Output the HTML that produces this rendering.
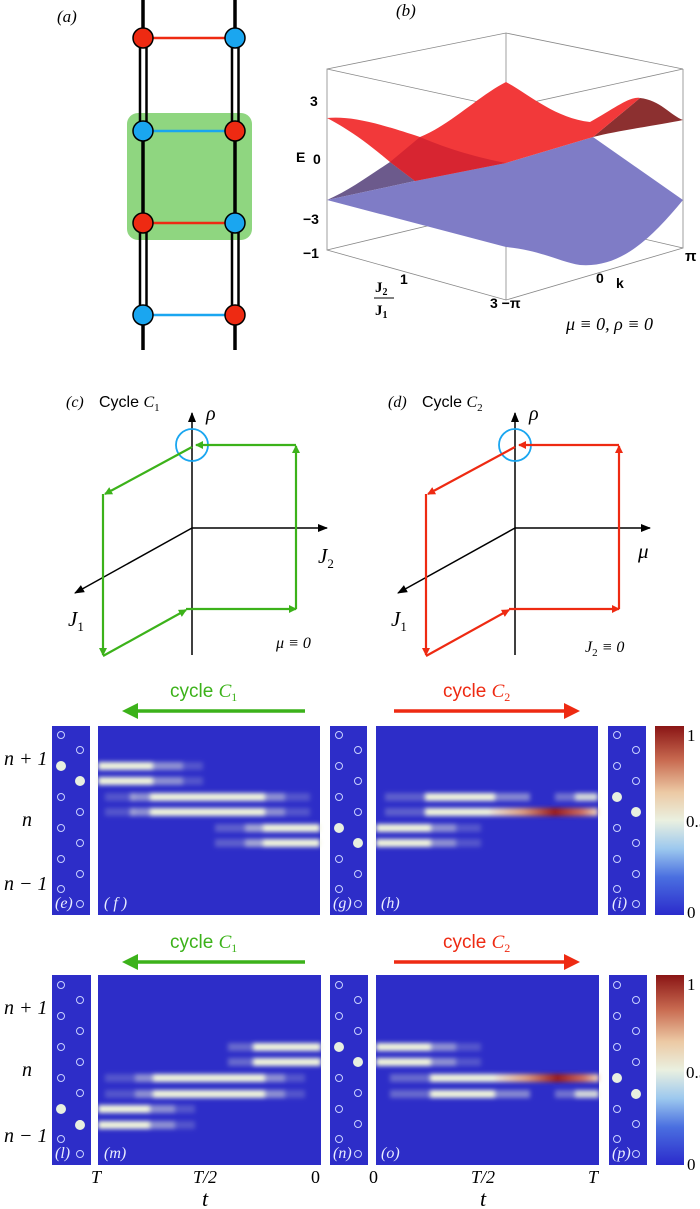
<!DOCTYPE html>
<html><head><meta charset="utf-8"><style>
html,body{margin:0;padding:0;background:#fff;}
svg{display:block;}
.it{font-family:"Liberation Serif",serif;font-style:italic;}
.sf{font-family:"Liberation Sans",sans-serif;}
.rm{font-family:"Liberation Serif",serif;}
</style></head><body>
<svg width="700" height="1209" viewBox="0 0 700 1209" xmlns="http://www.w3.org/2000/svg">
<defs>
<filter id="bl" x="-20%" y="-200%" width="140%" height="500%"><feGaussianBlur stdDeviation="2.5 2"/></filter>
<linearGradient id="cb" x1="0" y1="1" x2="0" y2="0">
<stop offset="0" stop-color="#2b2bcc"/><stop offset="0.2" stop-color="#4a6fe0"/><stop offset="0.35" stop-color="#9cc8ee"/>
<stop offset="0.5" stop-color="#eaf0e0"/><stop offset="0.65" stop-color="#ecc9a4"/><stop offset="0.82" stop-color="#c86a50"/><stop offset="1" stop-color="#8a1515"/>
</linearGradient>
<linearGradient id="redc" x1="0" x2="1"><stop offset="0" stop-color="#eee8d8"/><stop offset="0.3" stop-color="#e0a080"/><stop offset="0.6" stop-color="#9a1818"/><stop offset="0.85" stop-color="#d07060"/><stop offset="1" stop-color="#f0d8c0"/></linearGradient>
<marker id="ag" markerWidth="8" markerHeight="8" refX="7" refY="4" orient="auto" markerUnits="userSpaceOnUse" viewBox="0 0 8 8"><path d="M0,0 L8,4 L0,8z" fill="#3cb21a"/></marker>
<marker id="ar" markerWidth="8" markerHeight="8" refX="7" refY="4" orient="auto" markerUnits="userSpaceOnUse" viewBox="0 0 8 8"><path d="M0,0 L8,4 L0,8z" fill="#ee2a12"/></marker>
<marker id="ak" markerWidth="10" markerHeight="10" refX="9" refY="5" orient="auto" markerUnits="userSpaceOnUse" viewBox="0 0 10 10"><path d="M0,1 L10,5 L0,9z" fill="#000"/></marker>
</defs>

<!-- (a) -->
<text x="57" y="22" class="it" font-size="17">(a)</text>
<rect x="127" y="113" width="125" height="127" rx="11" fill="#8fd680"/>
<g stroke="#000" fill="none">
<line x1="143" y1="0" x2="143" y2="38" stroke-width="3.5"/>
<line x1="140" y1="38" x2="140" y2="131" stroke-width="2.5"/><line x1="146.5" y1="38" x2="146.5" y2="131" stroke-width="2.5"/>
<line x1="143" y1="131" x2="143" y2="223" stroke-width="3.5"/>
<line x1="140" y1="223" x2="140" y2="315" stroke-width="2.5"/><line x1="146.5" y1="223" x2="146.5" y2="315" stroke-width="2.5"/>
<line x1="143" y1="315" x2="143" y2="350" stroke-width="3.5"/>
<line x1="235" y1="0" x2="235" y2="38" stroke-width="3.5"/>
<line x1="232" y1="38" x2="232" y2="131" stroke-width="2.5"/><line x1="238.5" y1="38" x2="238.5" y2="131" stroke-width="2.5"/>
<line x1="235" y1="131" x2="235" y2="223" stroke-width="3.5"/>
<line x1="232" y1="223" x2="232" y2="315" stroke-width="2.5"/><line x1="238.5" y1="223" x2="238.5" y2="315" stroke-width="2.5"/>
<line x1="235" y1="315" x2="235" y2="350" stroke-width="3.5"/>
</g>
<line x1="143" y1="38" x2="235" y2="38" stroke="#ee2a12" stroke-width="2.5"/>
<line x1="143" y1="131" x2="235" y2="131" stroke="#1aa6f0" stroke-width="2.5"/>
<line x1="143" y1="223" x2="235" y2="223" stroke="#ee2a12" stroke-width="2.5"/>
<line x1="143" y1="315" x2="235" y2="315" stroke="#1aa6f0" stroke-width="2.5"/>
<g stroke="#000" stroke-width="1.5">
<circle cx="143" cy="38" r="10" fill="#ee2a12"/><circle cx="235" cy="38" r="10" fill="#1aa6f0"/>
<circle cx="143" cy="131" r="10" fill="#1aa6f0"/><circle cx="235" cy="131" r="10" fill="#ee2a12"/>
<circle cx="143" cy="223" r="10" fill="#ee2a12"/><circle cx="235" cy="223" r="10" fill="#1aa6f0"/>
<circle cx="143" cy="315" r="10" fill="#1aa6f0"/><circle cx="235" cy="315" r="10" fill="#ee2a12"/>
</g>

<!-- (b) -->
<text x="396" y="16" class="it" font-size="17">(b)</text>
<g stroke="#888" stroke-width="0.8" fill="none">
<polyline points="327,69 506,33 683,69 506,108 327,69 327,250 506,207 683,248 683,69"/>
<line x1="506" y1="33" x2="506" y2="207"/>
<polyline points="327,250 506,300 683,248"/>
<line x1="506" y1="108" x2="506" y2="300"/>
</g>
<path d="M327,200 L415,181 L390,162 C370,175 350,190 327,200z" fill="#6c5a8c"/>
<path d="M415,181 L506,163 L593,137 L683,200 C650,240 620,268 580,265 C560,262 540,250 506,247 L327,200z" fill="#7f7cc6"/>
<path d="M593,137 L640,98 C660,100 670,115 683,120 L683,120 C660,125 620,130 593,137z" fill="#8c3030"/>
<path d="M327,118 C350,116 375,122 420,137 C450,125 480,95 506,82 C530,95 555,118 590,122 C615,108 630,96 640,98 L593,137 L506,163 L415,181 L390,162 C370,145 350,130 327,118z" fill="#f2393a"/>
<path d="M420,137 C450,150 480,158 506,163 L415,181 L390,162z" fill="#d02030" opacity="0.8"/>
<text x="310" y="106" class="sf" font-size="14" font-weight="bold">3</text>
<text x="296" y="162" class="sf" font-size="14" font-weight="bold">E</text>
<text x="313" y="164" class="sf" font-size="14" font-weight="bold">0</text>
<text x="303" y="224" class="sf" font-size="14" font-weight="bold">−3</text>
<text x="303" y="258" class="sf" font-size="14" font-weight="bold">−1</text>
<text x="400" y="284" class="sf" font-size="14" font-weight="bold">1</text>
<text x="375" y="292" class="rm" font-size="15" font-weight="bold">J<tspan font-size="10" dy="3">2</tspan></text>
<line x1="374" y1="298" x2="394" y2="298" stroke="#000" stroke-width="1"/>
<text x="375" y="315" class="rm" font-size="15" font-weight="bold">J<tspan font-size="10" dy="3">1</tspan></text>
<text x="490" y="308" class="sf" font-size="14" font-weight="bold">3 −π</text>
<text x="596" y="283" class="sf" font-size="14" font-weight="bold">0</text>
<text x="616" y="288" class="sf" font-size="14" font-weight="bold">k</text>
<text x="685" y="261" class="sf" font-size="15" font-weight="bold">π</text>
<text x="566" y="330" class="it" font-size="18">μ ≡ 0,  ρ ≡ 0</text>

<!-- (c) -->
<text x="66" y="407" class="it" font-size="16">(c)</text><text x="99" y="407" class="sf" font-size="16">Cycle <tspan class="it">C</tspan><tspan class="rm" font-size="11" dy="4">1</tspan></text>
<text x="206" y="420" class="it" font-size="20">ρ</text>
<line x1="192" y1="655" x2="192" y2="413" stroke="#000" stroke-width="1.5" marker-end="url(#ak)"/>
<line x1="192" y1="528" x2="327" y2="528" stroke="#000" stroke-width="1.5" marker-end="url(#ak)"/>
<line x1="192" y1="528" x2="75" y2="593" stroke="#000" stroke-width="1.5" marker-end="url(#ak)"/>
<text x="318" y="563" class="it" font-size="21">J<tspan font-size="13" dy="5" font-style="normal">2</tspan></text>
<text x="68" y="626" class="it" font-size="21">J<tspan font-size="13" dy="5" font-style="normal">1</tspan></text>
<text x="276" y="648" class="it" font-size="16">μ ≡ 0</text>
<circle cx="192" cy="445" r="16" fill="none" stroke="#1aa6f0" stroke-width="1.8"/>
<g stroke="#3cb21a" stroke-width="2.2" fill="none">
<line x1="296" y1="445" x2="196" y2="445" marker-end="url(#ag)"/>
<line x1="192" y1="447" x2="105" y2="494" marker-end="url(#ag)"/>
<line x1="103" y1="494" x2="103" y2="655" marker-end="url(#ag)"/>
<line x1="103" y1="656" x2="186" y2="610" marker-end="url(#ag)"/>
<line x1="186" y1="609" x2="296" y2="609" marker-end="url(#ag)"/>
<line x1="296" y1="609" x2="296" y2="446" marker-end="url(#ag)"/>
</g>

<!-- (d) -->
<text x="388" y="407" class="it" font-size="16">(d)</text><text x="422" y="407" class="sf" font-size="16">Cycle <tspan class="it">C</tspan><tspan class="rm" font-size="11" dy="4">2</tspan></text>
<text x="529" y="420" class="it" font-size="20">ρ</text>
<line x1="515" y1="655" x2="515" y2="413" stroke="#000" stroke-width="1.5" marker-end="url(#ak)"/>
<line x1="515" y1="528" x2="650" y2="528" stroke="#000" stroke-width="1.5" marker-end="url(#ak)"/>
<line x1="515" y1="528" x2="398" y2="593" stroke="#000" stroke-width="1.5" marker-end="url(#ak)"/>
<text x="638" y="558" class="it" font-size="21">μ</text>
<text x="391" y="626" class="it" font-size="21">J<tspan font-size="13" dy="5" font-style="normal">1</tspan></text>
<text x="585" y="652" class="it" font-size="16">J<tspan font-size="11" dy="4" font-style="normal">2</tspan><tspan dy="-4"> ≡ 0</tspan></text>
<circle cx="515" cy="445" r="16" fill="none" stroke="#1aa6f0" stroke-width="1.8"/>
<g stroke="#ee2a12" stroke-width="2.2" fill="none">
<line x1="619" y1="445" x2="519" y2="445" marker-end="url(#ar)"/>
<line x1="515" y1="447" x2="428" y2="494" marker-end="url(#ar)"/>
<line x1="426" y1="494" x2="426" y2="655" marker-end="url(#ar)"/>
<line x1="426" y1="656" x2="509" y2="610" marker-end="url(#ar)"/>
<line x1="509" y1="609" x2="619" y2="609" marker-end="url(#ar)"/>
<line x1="619" y1="609" x2="619" y2="446" marker-end="url(#ar)"/>
</g>

<!-- cycle arrows -->
<g>
<text x="170" y="697" class="sf" font-size="19" fill="#3cb21a">cycle <tspan class="it">C</tspan><tspan class="rm" font-size="12" dy="4">1</tspan></text>
<line x1="305" y1="711" x2="135" y2="711" stroke="#3cb21a" stroke-width="3.5"/><path d="M122,711 L138,703 L138,719z" fill="#3cb21a"/>
<text x="443" y="697" class="sf" font-size="19" fill="#ee2a12">cycle <tspan class="it">C</tspan><tspan class="rm" font-size="12" dy="4">2</tspan></text>
<line x1="394" y1="711" x2="566" y2="711" stroke="#ee2a12" stroke-width="3.5"/><path d="M580,711 L564,703 L564,719z" fill="#ee2a12"/>
<text x="170" y="948" class="sf" font-size="19" fill="#3cb21a">cycle <tspan class="it">C</tspan><tspan class="rm" font-size="12" dy="4">1</tspan></text>
<line x1="305" y1="962" x2="135" y2="962" stroke="#3cb21a" stroke-width="3.5"/><path d="M122,962 L138,954 L138,970z" fill="#3cb21a"/>
<text x="443" y="948" class="sf" font-size="19" fill="#ee2a12">cycle <tspan class="it">C</tspan><tspan class="rm" font-size="12" dy="4">2</tspan></text>
<line x1="394" y1="962" x2="566" y2="962" stroke="#ee2a12" stroke-width="3.5"/><path d="M580,962 L564,954 L564,970z" fill="#ee2a12"/>
</g>

<!-- row labels -->
<g class="it" font-size="20">
<text x="4" y="765" class="it">n + 1</text><text x="22" y="826" class="it">n</text><text x="4" y="890" class="it">n − 1</text>
<text x="4" y="1014" class="it">n + 1</text><text x="22" y="1076" class="it">n</text><text x="4" y="1142" class="it">n − 1</text>
</g>

<!-- panels backgrounds -->
<g fill="#2d2dc8">
<rect x="52" y="726" width="38" height="189"/><rect x="98" y="726" width="222" height="189"/>
<rect x="330" y="726" width="37" height="189"/><rect x="376" y="726" width="222" height="189"/>
<rect x="608" y="726" width="38" height="189"/>
<rect x="52" y="975" width="39" height="190"/><rect x="98" y="975" width="223" height="190"/>
<rect x="330" y="975" width="38" height="190"/><rect x="376" y="975" width="223" height="190"/>
<rect x="609" y="975" width="38" height="190"/>
</g>
<rect x="655" y="726" width="29" height="189" fill="url(#cb)"/>
<rect x="656" y="975" width="28" height="190" fill="url(#cb)"/>
<g class="rm" font-size="17">
<text x="687" y="741">1</text><text x="686" y="827">0.5</text><text x="687" y="918">0</text>
<text x="687" y="990">1</text><text x="686" y="1078">0.5</text><text x="687" y="1170">0</text>
</g>

<!-- site dots -->
<g fill="none" stroke="#c8d0ff" stroke-width="1">
<g id="dtop">
<circle cx="61" cy="735" r="3.5"/><circle cx="80" cy="750" r="3.5"/><circle cx="61" cy="766" r="3.5"/><circle cx="80" cy="781" r="3.5"/><circle cx="61" cy="797" r="3.5"/><circle cx="80" cy="812" r="3.5"/><circle cx="61" cy="828" r="3.5"/><circle cx="80" cy="843" r="3.5"/><circle cx="61" cy="859" r="3.5"/><circle cx="80" cy="874" r="3.5"/><circle cx="61" cy="889" r="3.5"/><circle cx="80" cy="904" r="3.5"/>
</g>
<use href="#dtop" x="278"/><use href="#dtop" x="556"/>
<use href="#dtop" y="250"/><use href="#dtop" x="278" y="250"/><use href="#dtop" x="556" y="250"/>
</g>
<g fill="#e8f0e0">
<circle cx="61" cy="766" r="5"/><circle cx="80" cy="781" r="5"/>
<circle cx="339" cy="828" r="5"/><circle cx="358" cy="843" r="5"/>
<circle cx="617" cy="797" r="5"/><circle cx="636" cy="812" r="5"/>
<circle cx="61" cy="1109" r="5"/><circle cx="80" cy="1125" r="5"/>
<circle cx="339" cy="1047" r="5"/><circle cx="358" cy="1062" r="5"/>
<circle cx="617" cy="1078" r="5"/><circle cx="636" cy="1094" r="5"/>
</g>

<!-- streaks -->
<g filter="url(#bl)" fill="#f0f4dc">
<!-- f -->
<rect x="98" y="762" width="55" height="8"/><rect x="153" y="762" width="30" height="8" opacity="0.5"/><rect x="183" y="762" width="20" height="8" opacity="0.2"/>
<rect x="98" y="777" width="55" height="8"/><rect x="153" y="777" width="30" height="8" opacity="0.5"/><rect x="183" y="777" width="20" height="8" opacity="0.2"/>
<rect x="105" y="793" width="30" height="8" opacity="0.2"/><rect x="130" y="793" width="20" height="8" opacity="0.5"/><rect x="150" y="793" width="115" height="8"/><rect x="265" y="793" width="20" height="8" opacity="0.5"/><rect x="285" y="793" width="25" height="8" opacity="0.2"/>
<rect x="105" y="808" width="30" height="8" opacity="0.2"/><rect x="130" y="808" width="20" height="8" opacity="0.5"/><rect x="150" y="808" width="115" height="8"/><rect x="265" y="808" width="20" height="8" opacity="0.5"/><rect x="285" y="808" width="25" height="8" opacity="0.2"/>
<rect x="215" y="824" width="30" height="8" opacity="0.25"/><rect x="245" y="824" width="20" height="8" opacity="0.6"/><rect x="263" y="824" width="57" height="8"/>
<rect x="215" y="839" width="30" height="8" opacity="0.25"/><rect x="245" y="839" width="20" height="8" opacity="0.6"/><rect x="263" y="839" width="57" height="8"/>
<!-- h -->
<rect x="376" y="824" width="55" height="8"/><rect x="431" y="824" width="25" height="8" opacity="0.5"/><rect x="456" y="824" width="25" height="8" opacity="0.2"/>
<rect x="376" y="839" width="55" height="8"/><rect x="431" y="839" width="25" height="8" opacity="0.5"/><rect x="456" y="839" width="25" height="8" opacity="0.2"/>
<rect x="385" y="793" width="40" height="8" opacity="0.25"/><rect x="425" y="793" width="70" height="8"/><rect x="495" y="793" width="35" height="8" opacity="0.45"/><rect x="555" y="793" width="20" height="8" opacity="0.35"/><rect x="575" y="793" width="23" height="8" opacity="0.85"/>
<rect x="385" y="808" width="40" height="8" opacity="0.25"/><rect x="425" y="808" width="70" height="8"/>
<rect x="490" y="808" width="108" height="8" fill="url(#redc)"/>
<!-- m -->
<rect x="98" y="1105" width="52" height="8"/><rect x="150" y="1105" width="25" height="8" opacity="0.5"/><rect x="175" y="1105" width="20" height="8" opacity="0.2"/>
<rect x="98" y="1121" width="52" height="8"/><rect x="150" y="1121" width="25" height="8" opacity="0.5"/><rect x="175" y="1121" width="20" height="8" opacity="0.2"/>
<rect x="105" y="1074" width="30" height="8" opacity="0.2"/><rect x="135" y="1074" width="18" height="8" opacity="0.5"/><rect x="153" y="1074" width="112" height="8"/><rect x="265" y="1074" width="20" height="8" opacity="0.5"/><rect x="285" y="1074" width="20" height="8" opacity="0.2"/>
<rect x="105" y="1090" width="30" height="8" opacity="0.2"/><rect x="135" y="1090" width="18" height="8" opacity="0.5"/><rect x="153" y="1090" width="112" height="8"/><rect x="265" y="1090" width="20" height="8" opacity="0.5"/><rect x="285" y="1090" width="20" height="8" opacity="0.2"/>
<rect x="228" y="1043" width="25" height="8" opacity="0.3"/><rect x="253" y="1043" width="68" height="8"/>
<rect x="228" y="1058" width="25" height="8" opacity="0.3"/><rect x="253" y="1058" width="68" height="8"/>
<!-- o -->
<rect x="376" y="1043" width="55" height="8"/><rect x="431" y="1043" width="25" height="8" opacity="0.5"/><rect x="456" y="1043" width="25" height="8" opacity="0.2"/>
<rect x="376" y="1058" width="55" height="8"/><rect x="431" y="1058" width="25" height="8" opacity="0.5"/><rect x="456" y="1058" width="25" height="8" opacity="0.2"/>
<rect x="390" y="1074" width="40" height="8" opacity="0.3"/><rect x="430" y="1074" width="70" height="8"/><rect x="495" y="1074" width="104" height="8" fill="url(#redc)"/>
<rect x="390" y="1090" width="40" height="8" opacity="0.3"/><rect x="430" y="1090" width="65" height="8"/><rect x="495" y="1090" width="35" height="8" opacity="0.45"/><rect x="555" y="1090" width="20" height="8" opacity="0.35"/><rect x="575" y="1090" width="24" height="8" opacity="0.85"/>
</g>

<!-- panel labels -->
<g class="it" font-size="16" fill="#e8ecff">
<text x="55" y="908">(e)</text><text x="104" y="908">( f )</text><text x="333" y="908">(g)</text><text x="381" y="908">(h)</text><text x="612" y="908">(i)</text>
<text x="55" y="1158">(l)</text><text x="104" y="1158">(m)</text><text x="333" y="1158">(n)</text><text x="381" y="1158">(o)</text><text x="612" y="1158">(p)</text>
</g>

<!-- time axis -->
<g class="it" font-size="18">
<text x="91" y="1183">T</text><text x="193" y="1183">T/2</text><text x="311" y="1183" font-style="normal">0</text>
<text x="369" y="1183" font-style="normal">0</text><text x="471" y="1183">T/2</text><text x="588" y="1183">T</text>
<text x="202" y="1206" font-size="22">t</text><text x="480" y="1206" font-size="22">t</text>
</g>
</svg>
</body></html>
